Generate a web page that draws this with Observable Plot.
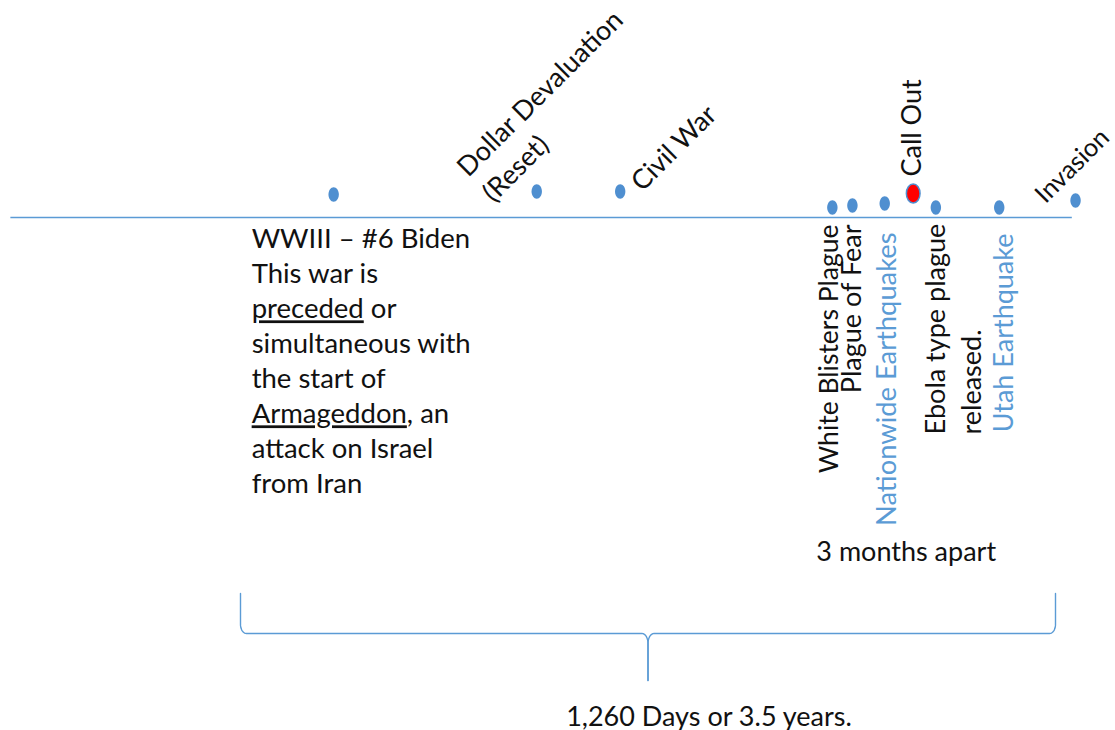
<!DOCTYPE html>
<html>
<head>
<meta charset="utf-8">
<script src="https://cdn.jsdelivr.net/npm/d3@7"></script>
<script src="https://cdn.jsdelivr.net/npm/@observablehq/plot@0.6"></script>
<style>
  html, body { margin: 0; padding: 0; background: #ffffff; }
  svg { display: block; }
</style>
</head>
<body>
<script>
// ---- data ----
const events = ["WWIII", "Dollar Devaluation", "Civil War", "White Blisters Plague", "Plague of Fear",
  "Nationwide Earthquakes", "Call Out", "Ebola type plague", "Utah Earthquake", "Invasion"];
const days = [144, 458, 587, 915, 946, 996, 1040, 1075, 1173, 1291];      // day on the 1,260-day timeline
const heights = [23, 26, 26, 10, 12, 14, 24, 10, 10, 17];                  // marker height above the line
const highlighted = [false, false, false, false, false, false, true, false, false, false];
const labels = [
  "WWIII – #6 Biden\nThis war is\npreceded or\nsimultaneous with\nthe start of\nArmageddon, an\nattack on Israel\nfrom Iran",
  "Dollar Devaluation\n(Reset)",
  "Civil War",
  "White Blisters Plague",
  "Plague of Fear",
  "Nationwide Earthquakes",
  "Call Out",
  "Ebola type plague\nreleased.",
  "Utah Earthquake",
  "Invasion"
];
const underlinedWords = ["preceded", "Armageddon"];
const timelineRange = [-355, 1286];
const spanDays = [0, 1260];
const spanLabel = "1,260 Days or 3.5 years.";
const noteLabel = "3 months apart";

// ---- layout (pixel offsets / styles) ----
const BLUE = "#5b9bd5";
const FONT = "Lato, 'Noto Sans', sans-serif";
const FS = 27;
const labelLayout = [
  {dx: -82, y: -6,   rotate: 0,   anchor: "start", line: "top",    lh: 35 / FS, fill: "#111", fs: 27.5},
  {dx: -43, y: 14,   rotate: -45, anchor: "start", line: "bottom", lh: 36 / FS, fill: "#111", fs: 27},
  {dx: 22,  y: 25,   rotate: -45, anchor: "start", line: "bottom", lh: 1.2,     fill: "#111", fs: 27},
  {dx: -5,  y: -7,   rotate: -90, anchor: "end",   line: "middle", lh: 1.2,     fill: "#111", fs: 26.5},
  {dx: -2,  y: -7,   rotate: -90, anchor: "end",   line: "middle", lh: 1.2,     fill: "#111", fs: 27},
  {dx: 1,   y: -15,  rotate: -90, anchor: "end",   line: "middle", lh: 1.2,     fill: BLUE,   fs: 27.3},
  {dx: -3,  y: 41,   rotate: -90, anchor: "start", line: "middle", lh: 1.2,     fill: "#111", fs: 27},
  {dx: 16,  y: -217, rotate: -90, anchor: "start", line: "middle", lh: 36 / FS, fill: "#111", fs: 27},
  {dx: 3,   y: -16,  rotate: -90, anchor: "end",   line: "middle", lh: 1.2,     fill: BLUE,   fs: 27},
  {dx: -30, y: 13,   rotate: -45, anchor: "start", line: "bottom", lh: 1.2,     fill: "#111", fs: 25.5}
];

const points = events.map((e, i) => ({event: e, day: days[i], h: heights[i], hi: highlighted[i]}));

// ellipse symbol (taller than wide)
const ellipse = {
  draw(ctx, size) {
    const r = Math.sqrt(size / Math.PI), a = r * 0.72, b = r, k = 0.5523;
    ctx.moveTo(a, 0);
    ctx.bezierCurveTo(a, k * b, k * a, b, 0, b);
    ctx.bezierCurveTo(-k * a, b, -a, k * b, -a, 0);
    ctx.bezierCurveTo(-a, -k * b, -k * a, -b, 0, -b);
    ctx.bezierCurveTo(k * a, -b, a, -k * b, a, 0);
    ctx.closePath();
  }
};

// curly brace under the span, in data units
const pxDay = (spanDays[1] - spanDays[0]) / 815;
function brace(x0, x1, yTop, yMid, yTip) {
  const rx = 6 * pxDay, ry = 9, rc = 6 * pxDay, rcy = 10;
  const xc = (x0 + x1) / 2;
  const out = [];
  const n = 10;
  for (const side of [-1, 1]) {
    const xe = side < 0 ? x0 : x1;
    const s = side < 0 ? 1 : -1; // direction towards the centre
    out.push({x: xe, y: yTop, side});
    for (let j = 0; j <= n; j++) {
      const p = (j / n) * Math.PI / 2;
      out.push({x: xe + s * rx * (1 - Math.cos(p)), y: yMid + ry * (1 - Math.sin(p)), side});
    }
    for (let j = 0; j <= n; j++) {
      const p = (j / n) * Math.PI / 2;
      out.push({x: xc - s * rc + s * rc * Math.sin(p), y: yMid - rcy * (1 - Math.cos(p)), side});
    }
    out.push({x: xc, y: yTip, side});
  }
  return out;
}
const braceData = brace(spanDays[0], spanDays[1], -376, -416, -463);

const marks = [
  Plot.ruleY([0], {x1: timelineRange[0], x2: timelineRange[1], stroke: BLUE, strokeWidth: 1.6}),
  Plot.line(braceData, {x: "x", y: "y", z: "side", stroke: BLUE, strokeWidth: 1.4, curve: "linear"}),
  Plot.dot(points.filter(d => !d.hi), {x: "day", y: "h", r: 7.2, symbol: ellipse, fill: "#4f8fd0", stroke: "none"}),
  Plot.dot(points.filter(d => d.hi), {x: "day", y: "h", r: 9.5, symbol: ellipse, fill: "#ff0000", stroke: "#4f8fd0", strokeWidth: 1.5})
];

labels.forEach((t, i) => {
  const L = labelLayout[i];
  marks.push(Plot.text([t], {
    x: () => days[i], y: () => L.y, text: d => d, dx: L.dx,
    rotate: L.rotate, textAnchor: L.anchor, lineAnchor: L.line, lineHeight: L.lh * FS / L.fs,
    fontSize: L.fs, fill: L.fill, fontFamily: FONT
  }));
});

marks.push(Plot.text([noteLabel], {x: () => days[6], y: () => -335, dx: -7, text: d => d,
  fontSize: FS, fill: "#111", fontFamily: FONT, lineAnchor: "middle"}));
marks.push(Plot.text([spanLabel], {x: () => (spanDays[0] + spanDays[1]) / 2, y: () => -500, dx: 61, text: d => d,
  fontSize: FS, fill: "#111", fontFamily: FONT, lineAnchor: "middle"}));

const chart = Plot.plot({
  width: 1115,
  height: 730,
  marginTop: 0, marginBottom: 0, marginLeft: 240, marginRight: 60,
  x: {domain: spanDays, axis: null},
  y: {domain: [-513, 217], axis: null},
  style: {background: "#ffffff", fontFamily: FONT, overflow: "visible"},
  marks
});

// underline selected words
chart.querySelectorAll("tspan").forEach(ts => {
  for (const w of underlinedWords) {
    if (ts.textContent.startsWith(w)) {
      const rest = ts.textContent.slice(w.length);
      ts.textContent = "";
      const u = document.createElementNS("http://www.w3.org/2000/svg", "tspan");
      u.textContent = w;
      u.style.textDecoration = "underline";
      ts.appendChild(u);
      ts.appendChild(document.createTextNode(rest));
    }
  }
});

document.body.appendChild(chart);
</script>
</body>
</html>
